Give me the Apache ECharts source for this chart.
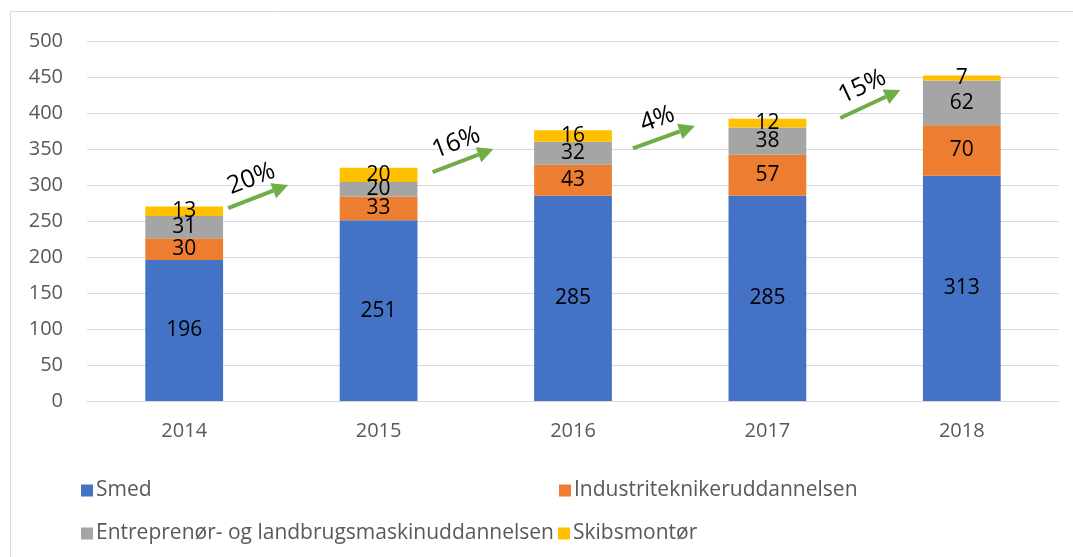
<!DOCTYPE html>
<html>
<head>
<meta charset="utf-8">
<script src="https://cdn.jsdelivr.net/npm/echarts@6/dist/echarts.min.js"></script>
<style>
    html, body { margin: 0; padding: 0; background: #fff; }
    #chart { width: 1073px; height: 557px; }
</style>
</head>
<body>
<div id="chart"></div>
<script>
// 数据
var years = ['2014', '2015', '2016', '2017', '2018'];
var smed = [196, 251, 285, 285, 313];
var industri = [30, 33, 43, 57, 70];
var entreprenor = [31, 20, 32, 38, 62];
var skibs = [13, 20, 16, 12, 7];
var yTicks = [0, 50, 100, 150, 200, 250, 300, 350, 400, 450, 500];
// 增长箭头 (类目轴上的位置, 数值)
var growthText = ['20%', '16%', '4%', '15%'];
var growthFromX = [0.226, 1.278, 2.308, 3.375];
var growthFromY = [268, 318, 351, 393];
var growthToX = [0.535, 1.591, 2.627, 3.684];
var growthToY = [300, 350, 382, 432];

(function () {
    var myChart = echarts.init(document.getElementById('chart'));
    var font = '"Open Sans", Lato, sans-serif';

    function barSeries(name, data, color) {
        return {
            name: name,
            type: 'bar',
            stack: 'total',
            barWidth: '40%',
            data: data,
            itemStyle: { color: color },
            label: {
                show: true,
                position: 'inside',
                color: '#000',
                fontSize: 21,
                fontFamily: font
            },
            emphasis: { disabled: true }
        };
    }

    var arrowData = growthText.map(function (t, i) {
        return [growthFromX[i], growthFromY[i], growthToX[i], growthToY[i], t];
    });

    var legendText = { color: '#595959', fontSize: 21, fontFamily: font, padding: [0, 0, 0, -2] };

    var option = {
        animation: false,
        textStyle: { fontFamily: font },
        grid: { left: 87, right: 14, top: 41, bottom: 156 },
        graphic: [{
            type: 'rect',
            shape: { x: 10.5, y: 11.5, width: 1200, height: 700 },
            style: { fill: 'none', stroke: '#d9d9d9', lineWidth: 1 },
            silent: true
        }],
        legend: [
            {
                data: ['Smed'],
                left: 76, top: 475,
                itemWidth: 12, itemHeight: 12, itemGap: 4,
                icon: 'rect',
                textStyle: legendText
            },
            {
                data: ['Industriteknikeruddannelsen'],
                left: 554, top: 475,
                itemWidth: 12, itemHeight: 12, itemGap: 4,
                icon: 'rect',
                textStyle: legendText
            },
            {
                data: ['Entreprenør- og landbrugsmaskinuddannelsen', 'Skibsmontør'],
                left: 76, top: 518,
                itemWidth: 12, itemHeight: 12, itemGap: 4,
                icon: 'rect',
                textStyle: legendText
            }
        ],
        xAxis: [
            {
                type: 'category',
                data: years,
                axisTick: { show: false },
                axisLine: { lineStyle: { color: '#d9d9d9', width: 1 } },
                axisLabel: { color: '#595959', fontSize: 20, margin: 20, fontFamily: font }
            },
            {
                // 箭头用的隐藏轴, 与类目轴对齐
                type: 'value',
                min: -0.5,
                max: years.length - 0.5,
                show: false
            }
        ],
        yAxis: {
            type: 'value',
            min: yTicks[0],
            max: yTicks[yTicks.length - 1],
            interval: 50,
            axisLine: { show: false },
            axisTick: { show: false },
            axisLabel: { color: '#595959', fontSize: 20, margin: 24, fontFamily: font },
            splitLine: { lineStyle: { color: '#d9d9d9', width: 1 } }
        },
        series: [
            barSeries('Smed', smed, '#4472c4'),
            barSeries('Industriteknikeruddannelsen', industri, '#ed7d31'),
            barSeries('Entreprenør- og landbrugsmaskinuddannelsen', entreprenor, '#a5a5a5'),
            barSeries('Skibsmontør', skibs, '#ffc000'),
            {
                type: 'custom',
                xAxisIndex: 1,
                silent: true,
                z: 10,
                data: arrowData,
                encode: { x: [0, 2], y: [1, 3] },
                renderItem: function (params, api) {
                    var p1 = api.coord([api.value(0), api.value(1)]);
                    var p2 = api.coord([api.value(2), api.value(3)]);
                    var x1 = p1[0], y1 = p1[1], x2 = p2[0], y2 = p2[1];
                    var ang = Math.atan2(y2 - y1, x2 - x1);
                    var head = 16, hw = 8;
                    var bx = x2 - head * Math.cos(ang), by = y2 - head * Math.sin(ang);
                    var nx = -Math.sin(ang), ny = Math.cos(ang);
                    var mx = (x1 + x2) / 2, my = (y1 + y2) / 2;
                    return {
                        type: 'group',
                        children: [
                            {
                                type: 'line',
                                shape: { x1: x1, y1: y1, x2: bx, y2: by },
                                style: { stroke: '#70ad47', lineWidth: 4 }
                            },
                            {
                                type: 'polygon',
                                shape: { points: [[x2, y2], [bx + nx * hw, by + ny * hw], [bx - nx * hw, by - ny * hw]] },
                                style: { fill: '#70ad47' }
                            },
                            {
                                type: 'text',
                                x: mx - nx * 19,
                                y: my - ny * 19,
                                rotation: -ang,
                                style: {
                                    text: api.value(4),
                                    fill: '#000',
                                    fontSize: 25,
                                    fontFamily: font,
                                    align: 'center',
                                    verticalAlign: 'middle'
                                }
                            }
                        ]
                    };
                }
            }
        ]
    };

    myChart.setOption(option);
    window.addEventListener('resize', function () {
        myChart.resize();
    });
})();
</script>
</body>
</html>
